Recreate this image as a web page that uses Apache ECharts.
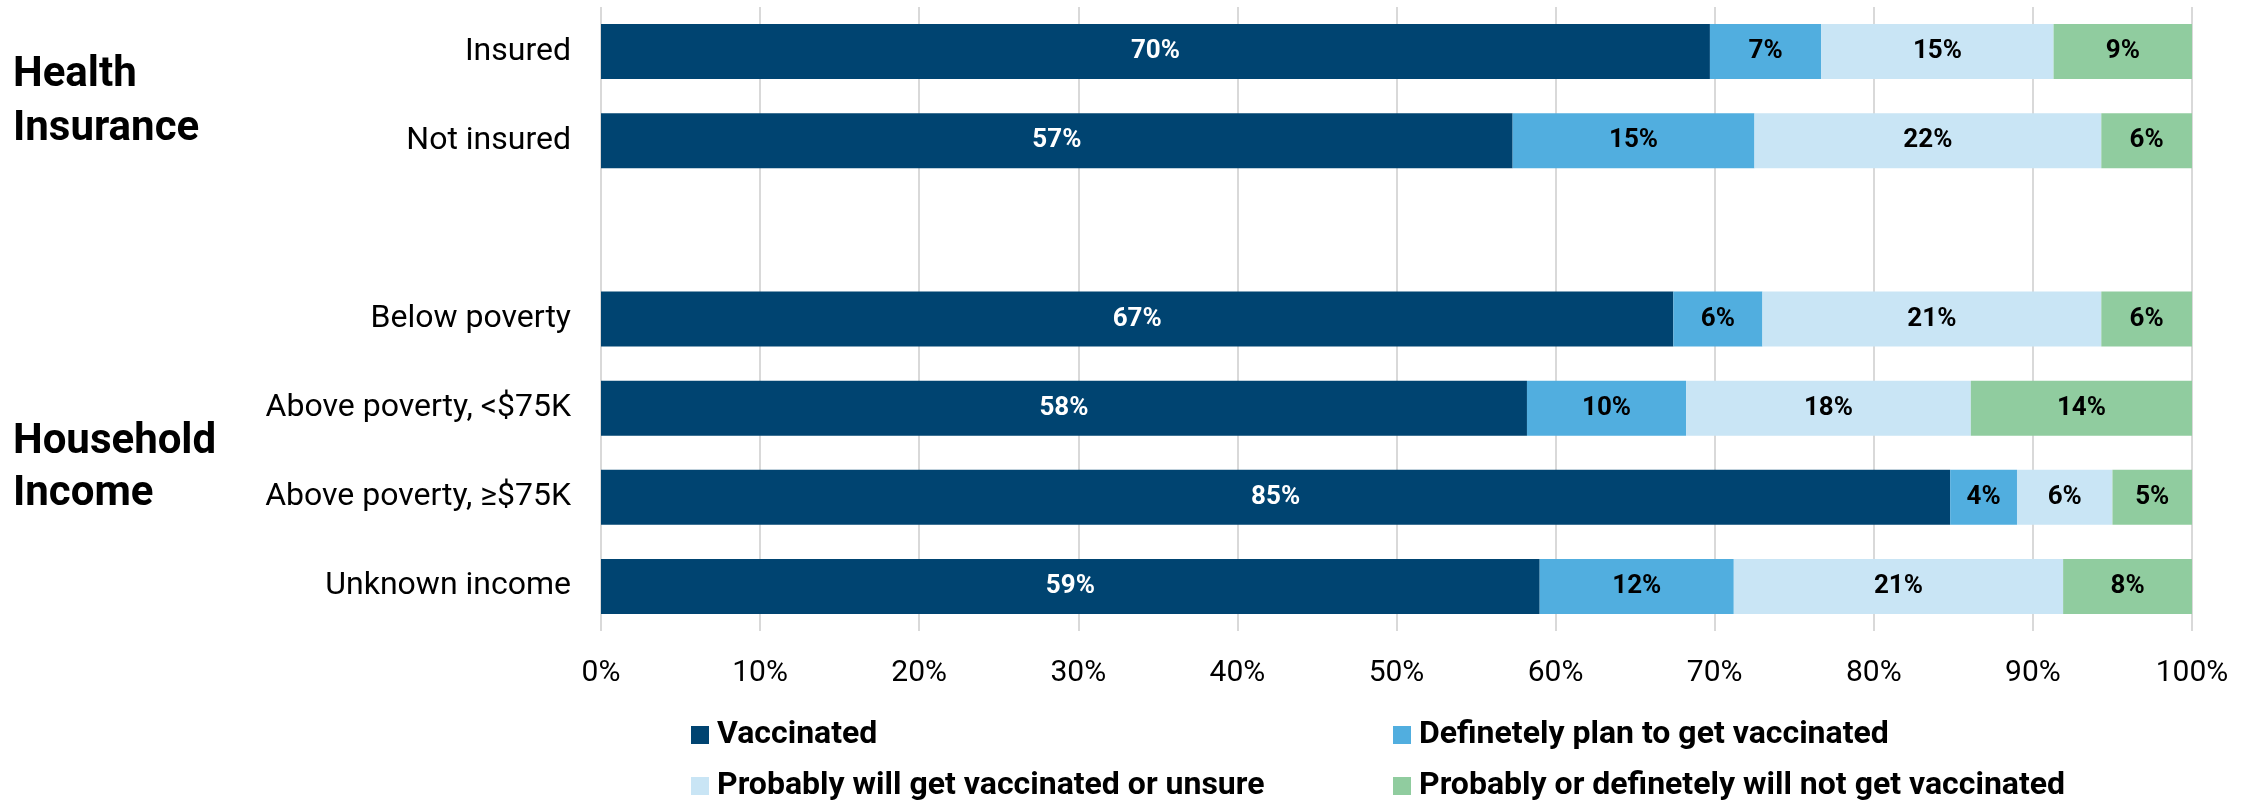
<!DOCTYPE html>
<html>
<head>
<meta charset="utf-8">
<script src="https://cdn.jsdelivr.net/npm/echarts@6/dist/echarts.min.js"></script>
<style>
html,body{margin:0;padding:0;background:#fff;}
#chart{width:2248px;height:803px;}
</style>
</head>
<body>
<div id="chart"></div>
<script>
const categories = ['Insured', 'Not insured', '', 'Below poverty', 'Above poverty, <$75K', 'Above poverty, \u2265$75K', 'Unknown income'];
const seriesNames = ['Vaccinated', 'Definetely plan to get vaccinated', 'Probably will get vaccinated or unsure', 'Probably or definetely will not get vaccinated'];
const vaccinated = [69.7, 57.3, null, 67.4, 58.2, 84.8, 59.0];
const definitelyPlan = [7.0, 15.2, null, 5.6, 10.0, 4.2, 12.2];
const probablyUnsure = [14.6, 21.8, null, 21.3, 17.9, 6.0, 20.7];
const probablyNot = [8.7, 5.7, null, 5.7, 13.9, 5.0, 8.1];
const colors = ['#004471', '#51aedf', '#c9e5f5', '#90cc9f'];
const groupTitles = ['Health\nInsurance', 'Household\nIncome'];

const FONT = 'Roboto';
const chart = echarts.init(document.getElementById('chart'), null, {renderer: 'canvas'});
const seriesData = [vaccinated, definitelyPlan, probablyUnsure, probablyNot];

// legend placement: [left, top] for each series' legend entry
const legendPos = [[691, 717], [1393, 717], [691, 768], [1393, 768]];

const option = {
  animation: false,
  textStyle: {fontFamily: FONT},
  grid: {left: 601, right: 56, top: 7, bottom: 172, containLabel: false},
  xAxis: {
    type: 'value', min: 0, max: 100, interval: 10,
    axisLabel: {formatter: v => v + '%', fontSize: 30, color: '#000', fontFamily: FONT, margin: 27},
    axisLine: {show: false}, axisTick: {show: false},
    splitLine: {show: true, lineStyle: {color: '#d9d9d9', width: 2}}
  },
  yAxis: {
    type: 'category', data: categories, inverse: true,
    axisLine: {show: false}, axisTick: {show: false},
    axisLabel: {fontSize: 32, color: '#000', fontFamily: FONT, margin: 30}
  },
  legend: seriesNames.map((n, i) => ({
    left: legendPos[i][0], top: legendPos[i][1], padding: 0,
    itemWidth: 18, itemHeight: 18, itemGap: 0,
    icon: 'rect', data: [n],
    textStyle: {fontSize: 32, fontWeight: 'bold', color: '#000', fontFamily: FONT, lineHeight: 36, padding: [0, 0, 0, 3]}
  })),
  title: [
    {text: groupTitles[0], left: 8, top: 43, textStyle: {fontSize: 42, fontWeight: 'bold', color: '#000', fontFamily: FONT, lineHeight: 54}},
    {text: groupTitles[1], left: 8, top: 411, textStyle: {fontSize: 42, fontWeight: 'bold', color: '#000', fontFamily: FONT, lineHeight: 52}}
  ],
  series: seriesData.map((d, i) => ({
    name: seriesNames[i],
    type: 'bar',
    stack: 'total',
    data: d,
    barWidth: 55,
    itemStyle: {color: colors[i]},
    label: {
      show: true, position: 'inside',
      formatter: p => Math.round(p.value) + '%',
      fontSize: 26, fontWeight: 'bold', fontFamily: FONT,
      color: i === 0 ? '#fff' : '#000'
    }
  }))
};
chart.setOption(option);
</script>
</body>
</html>
